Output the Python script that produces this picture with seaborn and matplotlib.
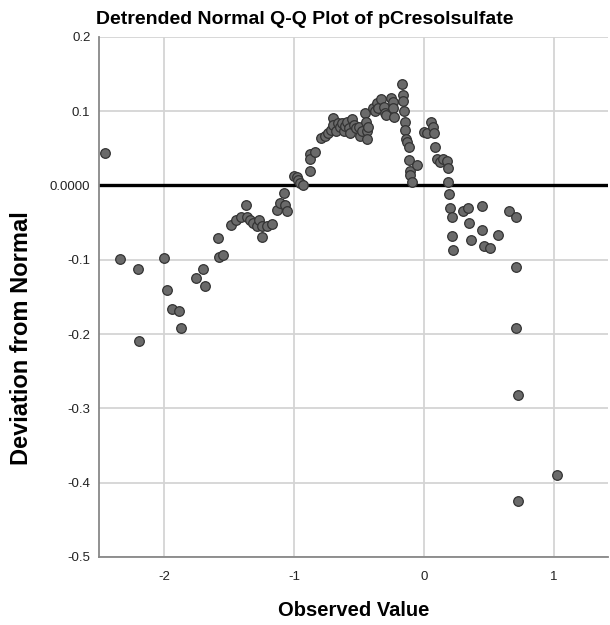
import numpy as np
import pandas as pd
import seaborn as sns
import matplotlib.pyplot as plt

observed = [
    -2.46, -2.34, -2.205, -2.20, -2.00, -1.98, -1.94, -1.89, -1.87, -1.76,
    -1.70, -1.69, -1.59, -1.58, -1.55, -1.49, -1.45, -1.41, -1.375, -1.36,
    -1.34, -1.315, -1.29, -1.27, -1.25, -1.25, -1.21, -1.17, -1.13, -1.11,
    -1.08, -1.07, -1.056, -1.00, -0.98, -0.97, -0.955, -0.935, -0.88, -0.875,
    -0.875, -0.84, -0.79, -0.765, -0.74, -0.72, -0.703, -0.698, -0.677, -0.66,
    -0.65, -0.632, -0.62, -0.61, -0.595, -0.58, -0.569, -0.556, -0.54, -0.52,
    -0.50, -0.49, -0.475, -0.455, -0.445, -0.44, -0.44, -0.43, -0.39, -0.378,
    -0.364, -0.352, -0.33, -0.31, -0.30, -0.29, -0.257, -0.24, -0.236, -0.23,
    -0.172, -0.165, -0.16, -0.152, -0.148, -0.146, -0.14, -0.13, -0.116, -0.113,
    -0.11, -0.105, -0.095, -0.056, 0.0, 0.021, 0.056, 0.07, 0.08, 0.085,
    0.098, 0.123, 0.149, 0.175, 0.187, 0.188, 0.195, 0.20, 0.213, 0.218,
    0.226, 0.303, 0.342, 0.35, 0.36, 0.445, 0.45, 0.465, 0.509, 0.571,
    0.658, 0.71, 0.71, 0.71, 0.722, 0.722, 1.023,
]
deviation = [
    0.044, -0.099, -0.113, -0.210, -0.098, -0.141, -0.166, -0.169, -0.192, -0.124,
    -0.112, -0.135, -0.071, -0.096, -0.094, -0.053, -0.046, -0.042, -0.026, -0.043,
    -0.046, -0.051, -0.054, -0.046, -0.055, -0.069, -0.055, -0.052, -0.033, -0.024,
    -0.010, -0.026, -0.035, 0.013, 0.011, 0.008, 0.003, 0.001, 0.043, 0.035,
    0.020, 0.045, 0.064, 0.066, 0.070, 0.075, 0.091, 0.082, 0.073, 0.084,
    0.079, 0.084, 0.073, 0.080, 0.086, 0.078, 0.070, 0.089, 0.082, 0.078,
    0.079, 0.067, 0.073, 0.097, 0.086, 0.073, 0.062, 0.079, 0.104, 0.100,
    0.111, 0.104, 0.116, 0.106, 0.097, 0.095, 0.118, 0.112, 0.104, 0.092,
    0.136, 0.122, 0.114, 0.100, 0.086, 0.074, 0.062, 0.058, 0.052, 0.034,
    0.020, 0.014, 0.005, 0.027, 0.072, 0.071, 0.086, 0.079, 0.070, 0.052,
    0.036, 0.031, 0.035, 0.033, 0.023, 0.004, -0.012, -0.030, -0.043, -0.068,
    -0.087, -0.035, -0.030, -0.050, -0.073, -0.027, -0.060, -0.081, -0.084, -0.067,
    -0.035, -0.043, -0.110, -0.192, -0.282, -0.425, -0.390,
]

x_ticks = [-2, -1, 0, 1]
y_ticks = [0.2, 0.1, 0.0, -0.1, -0.2, -0.3, -0.4, -0.5]
y_tick_labels = ['0.2', '0.1', '0.0000', '-0.1', '-0.2', '-0.3', '-0.4', '-0.5']

df = pd.DataFrame({'Observed Value': observed, 'Deviation from Normal': deviation})

sns.set_style('white')
plt.rcParams['font.family'] = ['Liberation Sans', 'DejaVu Sans']

fig = plt.figure(figsize=(6.1, 6.25), dpi=100)
ax = fig.add_axes([0.162, 0.109, 0.835, 0.832])

# 网格和零线
ax.set_axisbelow(True)
ax.grid(True, color='#d4d4d4', linewidth=1.3)
ax.axhline(0, color='black', linewidth=2.4, zorder=2)

sns.scatterplot(data=df, x='Observed Value', y='Deviation from Normal', ax=ax,
                s=48, color='#6a6a6a', edgecolor='#333333', linewidth=0.9, zorder=3)

ax.set_xlim(-2.506, 1.42)
ax.set_ylim(-0.5, 0.2)
ax.set_xticks(x_ticks)
ax.set_xticklabels([str(t) for t in x_ticks])
ax.set_yticks(y_ticks)
ax.set_yticklabels(y_tick_labels)
ax.tick_params(axis='both', length=0, labelsize=9.5, colors='#222222')
ax.tick_params(axis='x', pad=10)
ax.tick_params(axis='y', pad=6)

for side in ['top', 'right']:
    ax.spines[side].set_visible(False)
for side in ['left', 'bottom']:
    ax.spines[side].set_color('#888888')
    ax.spines[side].set_linewidth(1.3)

ax.set_xlabel('Observed Value', fontsize=14.5, fontweight='bold', color='black')
ax.xaxis.set_label_coords(0.5, -0.085)
ax.set_ylabel('Deviation from Normal', fontsize=17, fontweight='bold', color='black')
ax.yaxis.set_label_coords(-0.13, 0.42)
fig.suptitle('Detrended Normal Q-Q Plot of pCresolsulfate', fontsize=14,
             fontweight='bold', x=0.5, y=0.982, color='black')

plt.savefig('out.png', dpi=100)
